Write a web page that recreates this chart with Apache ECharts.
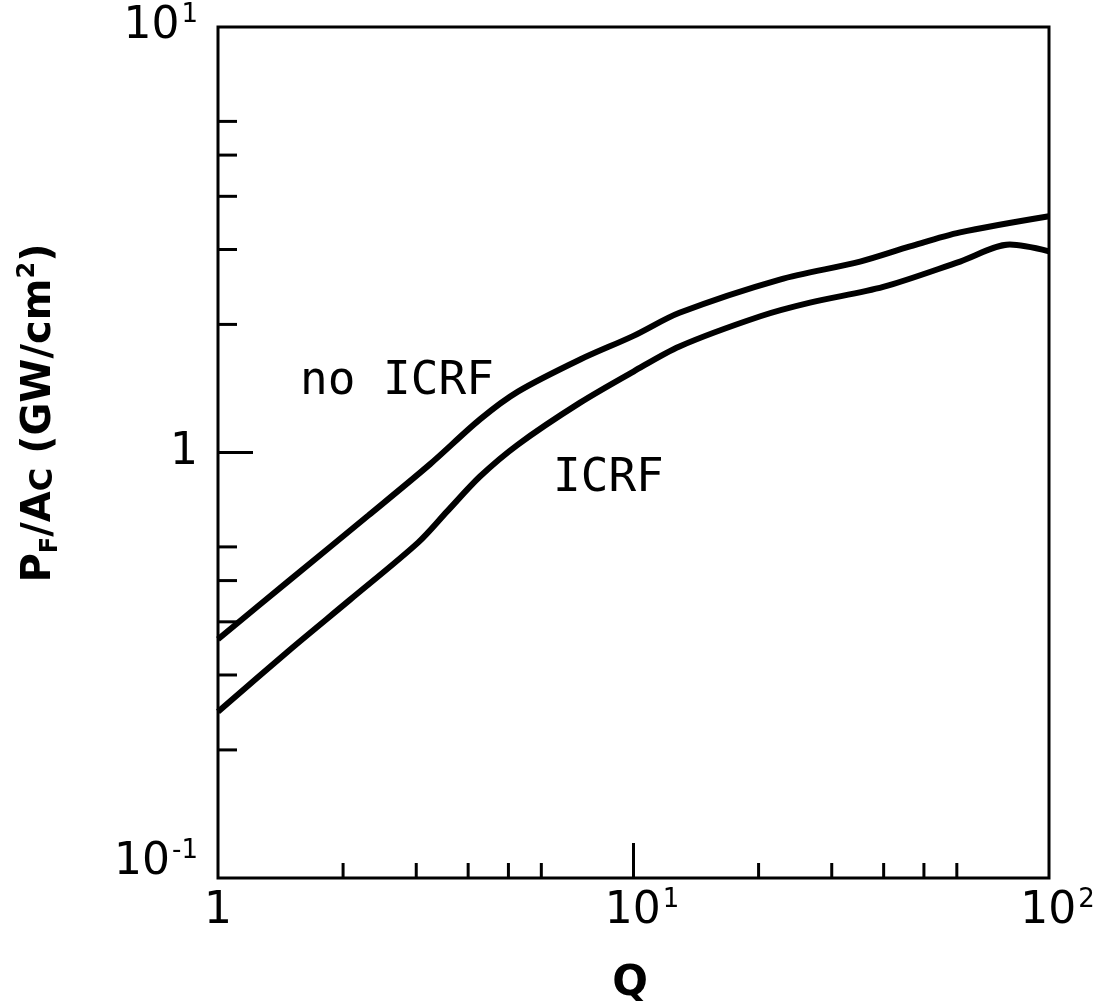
<!DOCTYPE html>
<html>
<head>
<meta charset="utf-8">
<script src="https://cdn.jsdelivr.net/npm/echarts@6.0.0/dist/echarts.min.js"></script>
<style>
  html, body { margin: 0; padding: 0; background: #fff; }
  #main { width: 1104px; height: 1004px; }
</style>
</head>
<body>
<div id="main"></div>
<script>
// curve: Q vs P_F/A_C
const qNoIcrf = [1, 1.49, 2.30, 3.24, 4.27, 5.27, 7.44, 10, 12.9, 22.5, 35.1, 46.3, 61.1, 100];
const pNoIcrf = [0.364, 0.502, 0.711, 0.939, 1.196, 1.39, 1.654, 1.88, 2.13, 2.55, 2.81, 3.05, 3.29, 3.59];

const qIcrf = [1, 1.49, 2.08, 3.03, 3.56, 4.27, 5.27, 7.44, 10, 12.9, 20.2, 26.6, 39.9, 61.1, 80.5, 100];
const pIcrf = [0.246, 0.344, 0.451, 0.614, 0.727, 0.878, 1.044, 1.31, 1.55, 1.775, 2.09, 2.25, 2.45, 2.81, 3.08, 2.97];

// tick positions (only 2..6 minor ticks are drawn in each decade)
const xTicks = [2, 3, 4, 5, 6, 10, 20, 30, 40, 50, 60];
const yTicks = [0.2, 0.3, 0.4, 0.5, 0.6, 1, 2, 3, 4, 5, 6];
const xMajor = [10];
const yMajor = [1];

const chart = echarts.init(document.getElementById('main'));

const pair = (xs, ys) => xs.map((x, i) => [x, ys[i]]);

function tickSeries(dir) {
  const vals = dir === 'x' ? xTicks : yTicks;
  return {
    type: 'custom',
    silent: true,
    clip: false,
    data: vals.map(v => dir === 'x' ? [v, 0.1] : [1, v]),
    renderItem: function (params, api) {
      const x = api.value(0), y = api.value(1);
      const p = api.coord([x, y]);
      const major = dir === 'x' ? xMajor.includes(x) : yMajor.includes(y);
      const len = major ? 35 : (dir === 'x' ? 15 : 19);
      const shape = dir === 'x'
        ? { x1: p[0], y1: p[1], x2: p[0], y2: p[1] - len }
        : { x1: p[0], y1: p[1], x2: p[0] + len, y2: p[1] };
      return { type: 'line', shape: shape, style: { stroke: '#000', lineWidth: 3 } };
    }
  };
}

const base = { fontFamily: 'DejaVu Sans', fontSize: 44, color: '#000', lineHeight: 44, verticalAlign: 'middle' };
const sup = { fontFamily: 'DejaVu Sans', fontSize: 26, color: '#000', lineHeight: 26, verticalAlign: 'middle', padding: [0, 0, 24, 2] };

function powLabel(v, axis) {
  const e = Math.round(Math.log10(v));
  if (e === 0) return '{b|1}';
  if (axis === 'x') return '{p|}{b|10}{s|' + e + '}';
  if (e < 0) return '{bl|10}{sl|' + e + '}';
  return '{b|10}{s|' + e + '}';
}

const option = {
  backgroundColor: '#fff',
  animation: false,
  grid: {
    left: 218, top: 27, right: 55, bottom: 126,
    show: true, borderColor: '#000', borderWidth: 3
  },
  xAxis: {
    type: 'log', logBase: 10, min: 1, max: 100,
    axisLine: { show: false },
    axisTick: { show: false },
    minorTick: { show: false },
    splitLine: { show: false },
    axisLabel: {
      margin: 12,
      formatter: v => powLabel(v, 'x'),
      rich: {
        b: base,
        s: sup,
        p: { width: 17 }
      }
    }
  },
  yAxis: {
    type: 'log', logBase: 10, min: 0.1, max: 10,
    axisLine: { show: false },
    axisTick: { show: false },
    minorTick: { show: false },
    splitLine: { show: false },
    axisLabel: {
      margin: 20,
      formatter: v => powLabel(v, 'y'),
      rich: {
        b: base,
        s: sup,
        bl: Object.assign({}, base, { padding: [0, 0, 30, 0] }),
        sl: Object.assign({}, sup, { padding: [0, 0, 54, 2] })
      }
    }
  },
  series: [
    {
      name: 'no ICRF',
      type: 'line',
      data: pair(qNoIcrf, pNoIcrf),
      smooth: 0.3,
      showSymbol: false,
      lineStyle: { color: '#000', width: 6 },
      silent: true
    },
    {
      name: 'ICRF',
      type: 'line',
      data: pair(qIcrf, pIcrf),
      smooth: 0.3,
      showSymbol: false,
      lineStyle: { color: '#000', width: 6 },
      silent: true
    },
    tickSeries('x'),
    tickSeries('y')
  ],
  graphic: [
    {
      type: 'text', left: 300, top: 359,
      style: { text: 'no ICRF', font: '46px "DejaVu Sans Mono"', fill: '#000' }
    },
    {
      type: 'text', left: 553, top: 456,
      style: { text: 'ICRF', font: '46px "DejaVu Sans Mono"', fill: '#000' }
    },
    {
      type: 'text', x: 630, y: 984,
      style: {
        text: 'Q', font: 'bold 42px "DejaVu Sans"', fill: '#000',
        align: 'center', verticalAlign: 'middle'
      }
    },
    {
      type: 'text', x: 40, y: 413, rotation: Math.PI / 2,
      style: {
        text: '{b|P}{sub|F}{b|/A}{subc|C}{b| (GW/cm}{sup|2}{b|)}',
        align: 'center', verticalAlign: 'middle',
        rich: {
          b: { fontFamily: 'DejaVu Sans', fontWeight: 'bold', fontSize: 40, lineHeight: 44, fill: '#000' },
          sub: { fontFamily: 'DejaVu Sans', fontWeight: 'bold', fontSize: 24, lineHeight: 24, padding: [22, 0, 0, 0], fill: '#000' },
          subc: { fontFamily: 'DejaVu Sans', fontWeight: 'bold', fontSize: 32, lineHeight: 32, padding: [8, 0, 0, 0], fill: '#000' },
          sup: { fontFamily: 'DejaVu Sans', fontWeight: 'bold', fontSize: 24, lineHeight: 24, padding: [0, 0, 24, 0], fill: '#000' }
        }
      }
    }
  ]
};

chart.setOption(option);
</script>
</body>
</html>
